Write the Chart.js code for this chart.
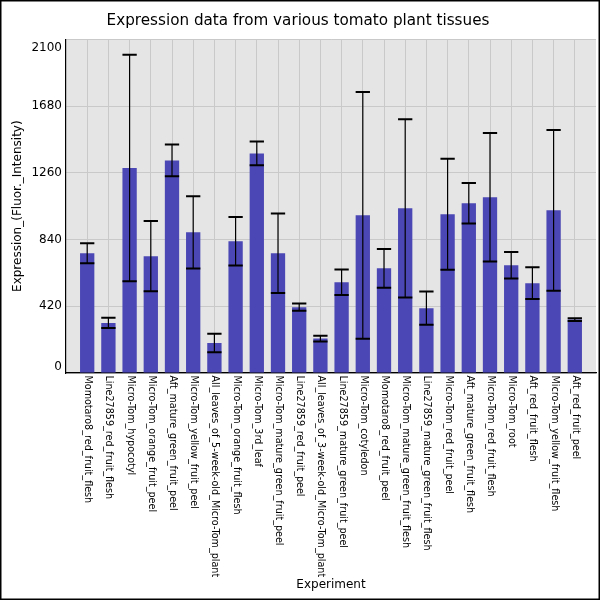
<!DOCTYPE html>
<html>
<head>
<meta charset="utf-8">
<script src="https://cdn.jsdelivr.net/npm/chart.js@4.4.1/dist/chart.umd.min.js"></script>
<style>
  html, body { margin: 0; padding: 0; background: #fff; }
  #wrap { width: 600px; height: 600px; position: relative; }
</style>
</head>
<body>
<div id="wrap"><canvas id="c" width="600" height="600"></canvas></div>
<script>
const categories = [
  "Momotaro8_red_fruit_flesh",
  "Line27859_red_fruit_flesh",
  "Micro-Tom_hypocotyl",
  "Micro-Tom_orange_fruit_peel",
  "Aft_mature_green_fruit_peel",
  "Micro-Tom_yellow_fruit_peel",
  "All_leaves_of_5-week-old_Micro-Tom_plant",
  "Micro-Tom_orange_fruit_flesh",
  "Micro-Tom_3rd_leaf",
  "Micro-Tom_mature_green_fruit_peel",
  "Line27859_red_fruit_peel",
  "All_leaves_of_3-week-old_Micro-Tom_plant",
  "Line27859_mature_green_fruit_peel",
  "Micro-Tom_cotyledon",
  "Momotaro8_red_fruit_peel",
  "Micro-Tom_mature_green_fruit_flesh",
  "Line27859_mature_green_fruit_flesh",
  "Micro-Tom_red_fruit_peel",
  "Aft_mature_green_fruit_flesh",
  "Micro-Tom_red_fruit_flesh",
  "Micro-Tom_root",
  "Aft_red_fruit_flesh",
  "Micro-Tom_yellow_fruit_flesh",
  "Aft_red_fruit_peel"
];
const expression = [753, 315, 1290, 735, 1338, 885, 189, 829, 1382, 753, 414, 217, 571, 992, 659,
                    1036, 408, 999, 1068, 1106, 678, 565, 1024, 336];
const errors = [63, 32, 712, 221, 100, 227, 58, 153, 75, 250, 23, 18, 80, 777, 122,
                561, 105, 349, 127, 405, 84, 100, 506, 8];
const yTicks = [0, 420, 840, 1260, 1680, 2100];

const FONT = "'DejaVu Sans', sans-serif";

const points = expression.map((v, i) => ({ x: i, y: v }));

const decor = {
  id: 'decor',
  beforeDraw(chart) {
    const { ctx, chartArea: a } = chart;
    ctx.save();
    ctx.fillStyle = '#ffffff';
    ctx.fillRect(0, 0, chart.width, chart.height);
    ctx.fillStyle = '#e5e5e5';
    ctx.fillRect(a.left, a.top, a.right - a.left, a.bottom - a.top);
    ctx.restore();
  },
  afterDatasetsDraw(chart) {
    const { ctx } = chart;
    const xs = chart.scales.x, ys = chart.scales.y;
    const meta = chart.getDatasetMeta(0);
    ctx.save();
    ctx.strokeStyle = '#000';
    expression.forEach((v, i) => {
      const bar = meta.data[i];
      const x = xs.getPixelForValue(i);
      const hi = ys.getPixelForValue(v + errors[i]);
      const lo = ys.getPixelForValue(v - errors[i]);
      const half = bar.width / 2;
      ctx.lineWidth = 1.2;
      ctx.beginPath();
      ctx.moveTo(x, hi); ctx.lineTo(x, lo);
      ctx.stroke();
      ctx.lineWidth = 2;
      ctx.beginPath();
      ctx.moveTo(x - half, hi); ctx.lineTo(x + half, hi);
      ctx.moveTo(x - half, lo); ctx.lineTo(x + half, lo);
      ctx.stroke();
    });
    ctx.restore();
  },
  afterDraw(chart) {
    const { ctx, chartArea: a } = chart;
    const xs = chart.scales.x, ys = chart.scales.y;
    ctx.save();
    ctx.fillStyle = '#000';
    // y tick labels
    ctx.font = '12px ' + FONT;
    ctx.textAlign = 'right';
    ctx.textBaseline = 'middle';
    yTicks.forEach(v => {
      let y = ys.getPixelForValue(v);
      if (v === ys.max) y += 8.5;
      if (v === ys.min) y -= 6;
      ctx.fillText(String(v), a.left - 4, y);
    });
    // x tick labels, rotated clockwise
    ctx.font = '9.6px ' + FONT;
    ctx.textAlign = 'left';
    ctx.textBaseline = 'middle';
    categories.forEach((lab, i) => {
      const x = xs.getPixelForValue(i);
      ctx.save();
      ctx.translate(x + 0.5, a.bottom + 2.5);
      ctx.rotate(Math.PI / 2);
      ctx.fillText(lab, 0, 0);
      ctx.restore();
    });
    // outer frame
    ctx.strokeStyle = '#000';
    ctx.lineWidth = 1.5;
    ctx.strokeRect(0.75, 0.75, chart.width - 1.5, chart.height - 1.5);
    ctx.restore();
  }
};

new Chart(document.getElementById('c'), {
  type: 'bar',
  data: {
    datasets: [{
      data: points,
      backgroundColor: '#4b47b4',
      borderWidth: 0,
      categoryPercentage: 1.0,
      barPercentage: 0.675
    }]
  },
  options: {
    responsive: false,
    animation: false,
    devicePixelRatio: 1,
    layout: { padding: { left: 0, right: 4, top: 0, bottom: 0 } },
    plugins: {
      legend: { display: false },
      tooltip: { enabled: false },
      title: {
        display: true,
        text: 'Expression data from various tomato plant tissues',
        color: '#000',
        font: { family: FONT, size: 15.2, weight: 'normal' },
        padding: { top: 12.4, bottom: 8.66 }
      }
    },
    scales: {
      x: {
        type: 'linear',
        min: -1,
        max: 24,
        offset: false,
        ticks: { display: false, stepSize: 1 },
        grid: {
          offset: false,
          drawTicks: false,
          lineWidth: 1,
          color: ctx => (ctx.tick && ctx.tick.value >= 0 && ctx.tick.value <= 23) ? '#c9c9c9' : 'rgba(0,0,0,0)'
        },
        border: { display: true, color: '#000', width: 1.2 },
        title: {
          display: true,
          text: 'Experiment',
          color: '#000',
          font: { family: FONT, size: 12 },
          padding: { top: 0, bottom: 7.8 }
        },
        afterFit: s => { s.height = 227; }
      },
      y: {
        min: 0,
        max: 2100,
        ticks: { display: false, stepSize: 420 },
        grid: { drawTicks: false, color: '#c9c9c9', lineWidth: 1 },
        border: { display: true, color: '#000', width: 1.2 },
        title: {
          display: true,
          text: 'Expression_(Fluor._Intensity)',
          color: '#000',
          font: { family: FONT, size: 12 },
          padding: { top: 11.1, bottom: 0 }
        },
        afterFit: s => { s.width = 66; }
      }
    }
  },
  plugins: [decor]
});
</script>
</body>
</html>
